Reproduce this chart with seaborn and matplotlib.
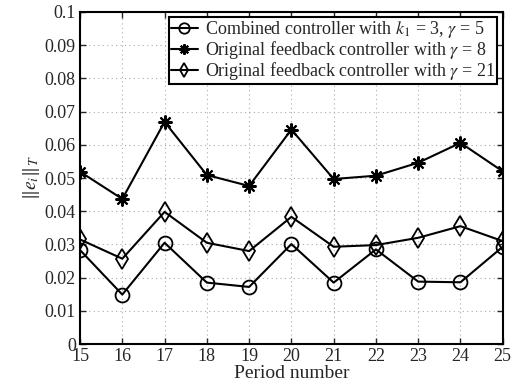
import numpy as np
import pandas as pd
import matplotlib
matplotlib.use("Agg")
import matplotlib.pyplot as plt
import seaborn as sns

periods = [15, 16, 17, 18, 19, 20, 21, 22, 23, 24, 25]
combined = [0.0283, 0.0149, 0.0305, 0.0185, 0.0172, 0.0301, 0.0185, 0.0285, 0.0188, 0.0186, 0.0293]
fb_gamma8 = [0.0519, 0.0437, 0.0669, 0.0509, 0.0476, 0.0646, 0.0497, 0.0507, 0.0546, 0.0606, 0.0520]
fb_gamma21 = [0.0315, 0.0257, 0.0398, 0.0305, 0.0280, 0.0383, 0.0293, 0.0298, 0.0320, 0.0355, 0.0310]

labels = [r"Combined controller with $k_1$ = 3, $\gamma$ = 5",
          r"Original feedback controller with $\gamma$ = 8",
          r"Original feedback controller with $\gamma$ = 21"]

sns.set_style("ticks")
plt.rcParams['font.family'] = ['Liberation Serif', 'DejaVu Serif']
plt.rcParams['mathtext.fontset'] = 'stix'
plt.rcParams['xtick.direction'] = 'in'
plt.rcParams['ytick.direction'] = 'in'

fig = plt.figure(figsize=(5.13, 3.87), dpi=100)
ax = fig.add_axes([0.156, 0.111, 0.824, 0.858])

sns.lineplot(x=periods, y=combined, ax=ax, color='black', lw=1.5, marker='o',
             markersize=10, markerfacecolor='none', markeredgecolor='black',
             markeredgewidth=1.3, label=labels[0])
sns.lineplot(x=periods, y=fb_gamma8, ax=ax, color='black', lw=1.5, marker=(8, 2, 0),
             markersize=10, markeredgecolor='black', markeredgewidth=1.5,
             label=labels[1])
sns.lineplot(x=periods, y=fb_gamma21, ax=ax, color='black', lw=1.5, marker='d',
             markersize=10, markerfacecolor='none', markeredgecolor='black',
             markeredgewidth=1.3, label=labels[2])

ax.set_xlim(15, 25)
ax.set_ylim(0, 0.1)
ax.set_xticks(periods)
ax.set_yticks(np.arange(0, 0.1001, 0.01))
ax.set_yticklabels(['0', '0.01', '0.02', '0.03', '0.04', '0.05', '0.06', '0.07', '0.08', '0.09', '0.1'])
ax.tick_params(labelsize=13, length=4, width=1, top=True, right=True, pad=3)
ax.grid(True, linestyle=(0, (1, 3)), color='#aaaaaa', lw=0.8)
for s in ax.spines.values():
    s.set_linewidth(1.5)
    s.set_color('black')

ax.set_xlabel("Period number", fontsize=14, labelpad=0)
ax.set_ylabel(r"$\|e_i\|_T$", fontsize=14, labelpad=2)

leg = ax.legend(loc='upper right', fontsize=13, frameon=True, fancybox=False,
                handlelength=1.5, borderpad=0.1, labelspacing=-0.05,
                borderaxespad=0.3, handletextpad=0.4, markerscale=0.75)
leg.get_frame().set_edgecolor('black')
leg.get_frame().set_linewidth(1.5)
leg.get_frame().set_alpha(1)

fig.savefig("out.png", dpi=100)
